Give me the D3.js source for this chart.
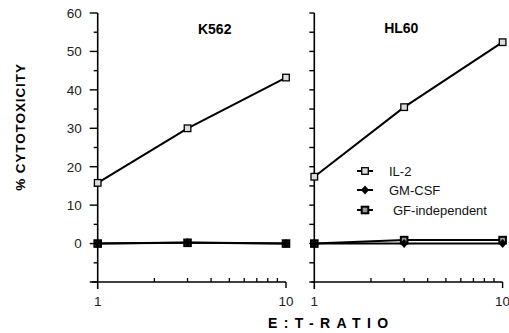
<!DOCTYPE html>
<html><head><meta charset="utf-8">
<script src="https://cdn.jsdelivr.net/npm/d3@7/dist/d3.min.js"></script>
<style>body{margin:0;background:#fff}svg{display:block}</style>
</head><body>
<svg id="c" width="509" height="333"></svg>
<script>
const ratios = [1, 3, 10];
const panels = ["K562", "HL60"];
const seriesNames = ["IL-2", "GM-CSF", "GF-independent"];
const k562IL2 = [15.8, 30.0, 43.2];
const k562GMCSF = [0, 0.3, 0];
const k562GFind = [0, 0.2, 0];
const hl60IL2 = [17.4, 35.5, 52.4];
const hl60GMCSF = [0, 0, 0];
const hl60GFind = [0, 0.9, 0.9];
const yTickLabels = [0, 10, 20, 30, 40, 50, 60];
const xTickLabels = [1, 10];

const data = [
  {name: panels[0], s: [k562IL2, k562GMCSF, k562GFind]},
  {name: panels[1], s: [hl60IL2, hl60GMCSF, hl60GFind]}
];

const svg = d3.select("#c");
const font = "'Liberation Sans', Arial, sans-serif";
const y = d3.scaleLinear().domain([-10, 60]).range([282, 13]);
const panelX = [97.7, 314.3];
const W = 188.3;

data.forEach((p, i) => {
  const x = d3.scaleLog().domain([1, 10]).range([panelX[i], panelX[i] + W]);
  const g = svg.append("g");
  g.append("line").attr("x1", x(1)).attr("x2", x(1)).attr("y1", y(60)).attr("y2", y(-10) + 7)
    .attr("stroke", "#000").attr("stroke-width", 1.6);
  d3.range(-10, 61, 5).forEach(v => {
    const major = v % 10 === 0;
    const len = i === 0 ? (major ? 8 : 4) : 5;
    g.append("line").attr("x1", x(1) - len).attr("x2", x(1)).attr("y1", y(v)).attr("y2", y(v))
      .attr("stroke", "#000").attr("stroke-width", 1.4);
  });
  if (i === 0) {
    yTickLabels.forEach(v => {
      g.append("text").attr("x", x(1) - 16).attr("y", y(v)).attr("dy", "0.36em")
        .attr("text-anchor", "end").attr("font-family", font).attr("font-size", 13.5)
        .attr("fill", "#222").text(v);
    });
  }
  g.append("line").attr("x1", x(1) - (i === 0 ? 6 : 3)).attr("x2", x(10)).attr("y1", y(-10)).attr("y2", y(-10))
    .attr("stroke", "#000").attr("stroke-width", 1.6);
  d3.range(2, 10).forEach(v => {
    g.append("line").attr("x1", x(v)).attr("x2", x(v)).attr("y1", y(-10)).attr("y2", y(-10) - 4)
      .attr("stroke", "#000").attr("stroke-width", 1.3);
  });
  g.append("line").attr("x1", x(10)).attr("x2", x(10)).attr("y1", y(-10)).attr("y2", y(-10) + 6)
    .attr("stroke", "#000").attr("stroke-width", 1.4);
  xTickLabels.forEach(v => {
    g.append("text").attr("x", x(v)).attr("y", 306).attr("text-anchor", "middle")
      .attr("font-family", font).attr("font-size", 13.5).attr("fill", "#222").text(v);
  });
  g.append("text").attr("x", x(1) + (i === 0 ? 117 : 87)).attr("y", i === 0 ? 34 : 33).attr("text-anchor", "middle")
    .attr("font-family", font).attr("font-weight", "bold").attr("font-size", 14).text(p.name);

  const line = d3.line().x((d, k) => x(ratios[k])).y(d => y(d));
  [2, 1, 0].forEach(si => {
    g.append("path").datum(p.s[si]).attr("d", line).attr("fill", "none")
      .attr("stroke", "#000").attr("stroke-width", 2);
  });
  [2, 1, 0].forEach(si => {
    p.s[si].forEach((v, k) => drawMarker(g, si, x(ratios[k]), y(v)));
  });
});

function drawMarker(g, si, cx, cy) {
  if (si === 0) {
    g.append("rect").attr("x", cx - 3.3).attr("y", cy - 3.3).attr("width", 6.6).attr("height", 6.6)
      .attr("fill", "#ddd").attr("stroke", "#000").attr("stroke-width", 1.3);
  } else if (si === 1) {
    g.append("path").attr("d", `M${cx},${cy-4.5}L${cx+4},${cy}L${cx},${cy+4.5}L${cx-4},${cy}Z`)
      .attr("fill", "#000");
  } else {
    g.append("rect").attr("x", cx - 3.3).attr("y", cy - 3.3).attr("width", 6.6).attr("height", 6.6)
      .attr("fill", "#999").attr("stroke", "#000").attr("stroke-width", 2);
  }
}

const legY = [171, 190, 210];
seriesNames.forEach((n, si) => {
  svg.append("line").attr("x1", 357).attr("x2", 373).attr("y1", legY[si]).attr("y2", legY[si])
    .attr("stroke", "#000").attr("stroke-width", 2);
  drawMarker(svg, si, 365, legY[si]);
  svg.append("text").attr("x", si === 2 ? 393 : 389).attr("y", legY[si]).attr("dy", "0.36em")
    .attr("font-family", font).attr("font-size", 13).attr("fill", "#111").text(n);
});

svg.append("text").attr("x", 268).attr("y", 328).attr("text-anchor", "start")
  .attr("font-family", font).attr("font-weight", "bold").attr("font-size", 14)
  .attr("letter-spacing", "6.4px").text("E:T-RATIO");
svg.append("text").attr("transform", "translate(25,127) rotate(-90)").attr("text-anchor", "middle")
  .attr("font-family", font).attr("font-weight", "bold").attr("font-size", 13.5)
  .attr("letter-spacing", "0.9px").text("% CYTOTOXICITY");
</script>
</body></html>
